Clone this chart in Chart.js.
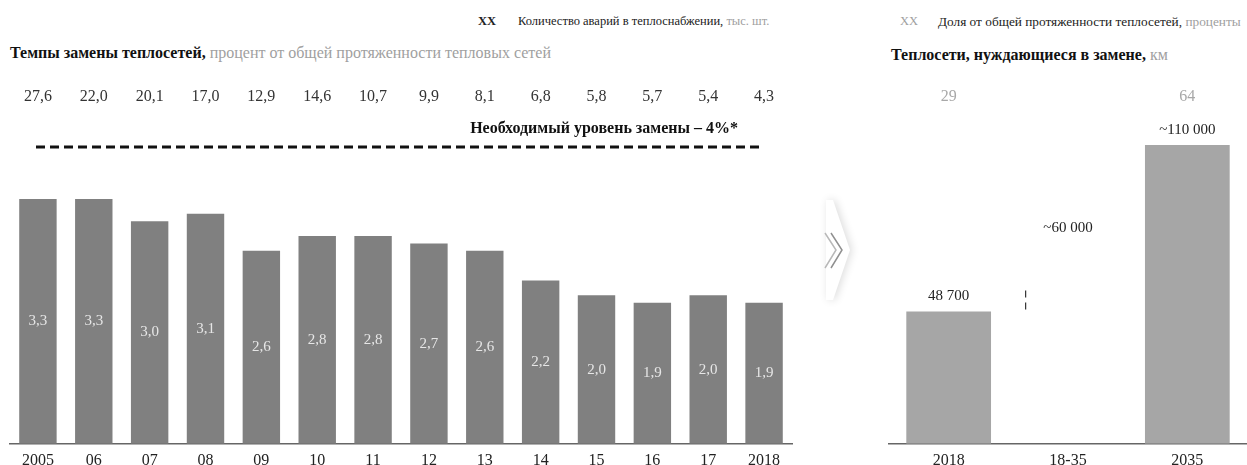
<!DOCTYPE html>
<html>
<head>
<meta charset="utf-8">
<script src="https://cdn.jsdelivr.net/npm/chart.js@4"></script>
<style>
  html, body { margin: 0; padding: 0; background: #fff; }
  body { width: 1247px; height: 465px; position: relative; overflow: hidden; font-family: "Liberation Serif", serif; }
  .txt { position: absolute; white-space: nowrap; }
  .legend { font-size: 12.5px; color: #222; }
  .title { font-size: 16px; color: #111; font-weight: bold; }
  .grey { color: #a0a0a0; font-weight: normal; }
  #accidents { position: absolute; left: 0; top: 0; }
  #network { position: absolute; left: 880px; top: 0; }
</style>
</head>
<body>
<div class="txt legend" style="left:478px; top:14px;"><b>XX</b></div>
<div class="txt legend" style="left:518px; top:14px;">Количество аварий в теплоснабжении, <span class="grey">тыс. шт.</span></div>
<div class="txt legend" style="left:900px; top:14px;"><span class="grey">XX</span></div>
<div class="txt legend" style="left:938px; top:14px; font-size:13.3px;">Доля от общей протяженности теплосетей, <span class="grey">проценты</span></div>

<div class="txt title" style="left:10px; top:44px;">Темпы замены теплосетей, <span class="grey">процент от общей протяженности тепловых сетей</span></div>
<div class="txt title" style="left:891px; top:46px;">Теплосети, нуждающиеся в замене, <span class="grey">км</span></div>

<canvas id="accidents" width="860" height="477"></canvas>
<canvas id="network" width="367" height="477"></canvas>

<script>
// left panel: accidents per year and replacement rate
const years = ['2005', '06', '07', '08', '09', '10', '11', '12', '13', '14', '15', '16', '17', '2018'];
const accidents = [3.3, 3.3, 3.0, 3.1, 2.6, 2.8, 2.8, 2.7, 2.6, 2.2, 2.0, 1.9, 2.0, 1.9];
const replaceRate = [27.6, 22.0, 20.1, 17.0, 12.9, 14.6, 10.7, 9.9, 8.1, 6.8, 5.8, 5.7, 5.4, 4.3];
const requiredLevel = 'Необходимый уровень замены – 4%*';

// right panel: network needing replacement, km
const periods = ['2018', '18-35', '2035'];
const networkKm = [48700, [48700, 110000], 110000];
const networkLabels = ['48 700', '~60 000', '~110 000'];
const networkShare = ['29', '', '64'];

const fmt = v => v.toFixed(1).replace('.', ',');
const serif = '"Liberation Serif", serif';

const leftDecor = {
  id: 'leftDecor',
  afterDatasetsDraw(chart) {
    const ctx = chart.ctx;
    const meta = chart.getDatasetMeta(0);
    ctx.save();
    ctx.textAlign = 'center';
    ctx.textBaseline = 'middle';
    meta.data.forEach((bar, i) => {
      // value inside the bar
      ctx.font = '15px ' + serif;
      ctx.fillStyle = '#e6e6e6';
      ctx.fillText(fmt(accidents[i]), bar.x, (bar.y + bar.base) / 2);
      // replacement rate row
      ctx.font = '16px ' + serif;
      ctx.fillStyle = '#333';
      ctx.fillText(fmt(replaceRate[i]), bar.x, 97);
    });
    // required level line
    ctx.font = 'bold 16px ' + serif;
    ctx.textAlign = 'right';
    ctx.fillStyle = '#111';
    ctx.fillText(requiredLevel, 738, 129);
    ctx.beginPath();
    ctx.setLineDash([9, 5]);
    ctx.lineWidth = 3;
    ctx.strokeStyle = '#111';
    ctx.moveTo(36, 147);
    ctx.lineTo(763, 147);
    ctx.stroke();
    ctx.setLineDash([]);

    // chevron between panels
    ctx.save();
    ctx.shadowColor = 'rgba(0,0,0,0.14)';
    ctx.shadowBlur = 9;
    ctx.shadowOffsetX = 2;
    ctx.fillStyle = '#fff';
    ctx.beginPath();
    ctx.moveTo(833, 200);
    ctx.lineTo(850, 250);
    ctx.lineTo(833, 300);
    ctx.lineTo(826, 300);
    ctx.lineTo(826, 200);
    ctx.closePath();
    ctx.fill();
    ctx.restore();
    ctx.lineWidth = 1.5;
    [[825, '#b8b8b8'], [831, '#909090']].forEach(([x, c]) => {
      ctx.strokeStyle = c;
      ctx.beginPath();
      ctx.moveTo(x, 233);
      ctx.lineTo(x + 11, 250);
      ctx.lineTo(x, 268);
      ctx.stroke();
    });
    ctx.restore();
  }
};

new Chart(document.getElementById('accidents'), {
  type: 'bar',
  data: {
    labels: years,
    datasets: [{
      data: accidents,
      backgroundColor: '#808080',
      barPercentage: 0.67,
      categoryPercentage: 1
    }]
  },
  options: {
    responsive: false,
    animation: false,
    events: [],
    layout: { padding: { left: 10, right: 68, top: 160, bottom: 0 } },
    plugins: { legend: { display: false }, tooltip: { enabled: false } },
    scales: {
      x: {
        grid: { display: false, drawTicks: false },
        border: { color: '#666', width: 1.5 },
        ticks: { color: '#222', font: { family: serif, size: 16 }, padding: 7, maxRotation: 0 }
      },
      y: { display: false, min: 0, max: 3.824 }
    }
  },
  plugins: [leftDecor]
});

const rightDecor = {
  id: 'rightDecor',
  afterDatasetsDraw(chart) {
    const ctx = chart.ctx;
    const meta = chart.getDatasetMeta(0);
    ctx.save();
    ctx.textAlign = 'center';
    ctx.textBaseline = 'middle';
    meta.data.forEach((bar, i) => {
      ctx.font = '15px ' + serif;
      ctx.fillStyle = '#222';
      if (Array.isArray(networkKm[i])) {
        ctx.fillText(networkLabels[i], bar.x, (bar.y + bar.base) / 2);
        // dashed edge of the gap
        const left = bar.x - bar.width / 2;
        ctx.beginPath();
        ctx.setLineDash([7, 5]);
        ctx.lineWidth = 1.2;
        ctx.strokeStyle = '#333';
        ctx.moveTo(left, bar.base - 2);
        ctx.lineTo(left, bar.base - 22);
        ctx.stroke();
        ctx.setLineDash([]);
      } else {
        ctx.fillText(networkLabels[i], bar.x, bar.y - 15);
      }
      if (networkShare[i]) {
        ctx.font = '16px ' + serif;
        ctx.fillStyle = '#a8a8a8';
        ctx.fillText(networkShare[i], bar.x, 97);
      }
    });
    ctx.restore();
  }
};

new Chart(document.getElementById('network'), {
  type: 'bar',
  data: {
    labels: periods,
    datasets: [{
      data: networkKm,
      backgroundColor: ['#a6a6a6', 'rgba(0,0,0,0)', '#a6a6a6'],
      barPercentage: 0.71,
      categoryPercentage: 1
    }]
  },
  options: {
    responsive: false,
    animation: false,
    events: [],
    layout: { padding: { left: 9, right: 0, top: 130, bottom: 0 } },
    plugins: { legend: { display: false }, tooltip: { enabled: false } },
    scales: {
      x: {
        grid: { display: false, drawTicks: false },
        border: { color: '#666', width: 1.5 },
        ticks: { color: '#222', font: { family: serif, size: 16 }, padding: 7, maxRotation: 0 }
      },
      y: { display: false, min: 0, max: 115500 }
    }
  },
  plugins: [rightDecor]
});
</script>
</body>
</html>
